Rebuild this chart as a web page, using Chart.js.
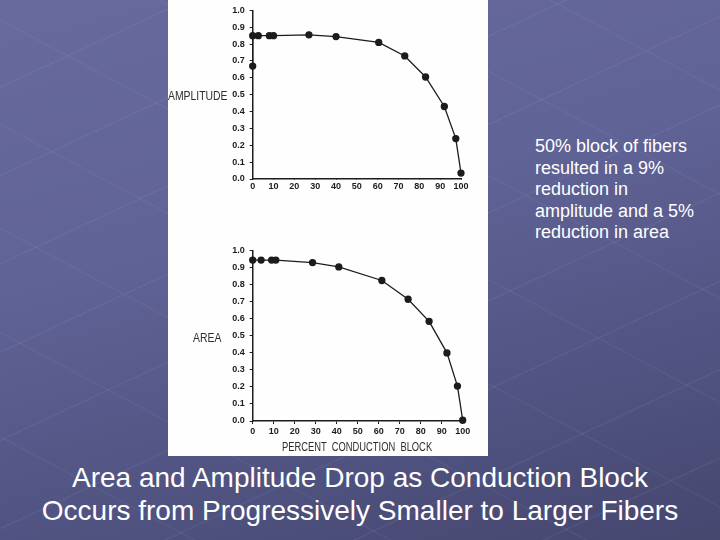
<!DOCTYPE html>
<html>
<head>
<meta charset="utf-8">
<script src="https://cdn.jsdelivr.net/npm/chart.js@4.4.1/dist/chart.umd.min.js"></script>
<style>
  html, body { margin:0; padding:0; }
  body {
    width:720px; height:540px; overflow:hidden; position:relative;
    background:
      repeating-linear-gradient(155deg, rgba(255,255,255,0) 0px, rgba(255,255,255,0) 78px, rgba(190,195,240,0.07) 79px, rgba(190,195,240,0.07) 80px),
      repeating-linear-gradient(28deg, rgba(255,255,255,0) 0px, rgba(255,255,255,0) 90px, rgba(190,195,240,0.06) 91px, rgba(190,195,240,0.06) 92px),
      linear-gradient(165deg, #686a9e 0%, #606396 40%, #505280 75%, #45476f 100%);
    font-family: "Liberation Sans", Arial, sans-serif;
  }
  #panel { position:absolute; left:168px; top:0; width:320px; height:456px; background:#fefefe; }
  .cv { position:absolute; left:0; width:320px; }
  #c1wrap { top:0; height:200px; }
  #c2wrap { top:230px; height:226px; }
  .lab { position:absolute; font-family:"Liberation Sans", Arial, sans-serif; color:#2e2e2e; white-space:pre; transform-origin:0 0; }
  #note { position:absolute; left:535px; top:136px; color:#fff; font-size:18px; line-height:21.6px; white-space:nowrap; }
  #title { position:absolute; left:0; width:720px; top:461px; text-align:center; color:#fff; font-size:28px; line-height:33px; white-space:nowrap; }
</style>
</head>
<body>
<div id="panel">
  <div class="cv" id="c1wrap"><canvas id="c1" width="320" height="200"></canvas></div>
  <div class="cv" id="c2wrap"><canvas id="c2" width="320" height="226"></canvas></div>
  <div class="lab" id="ampLab" style="left:0px; top:88px; font-size:13px; transform:scaleX(0.8);"></div>
  <div class="lab" id="areaLab" style="left:25px; top:330px; font-size:13px; transform:scaleX(0.8);"></div>
  <div class="lab" id="xLab" style="left:114px; top:440px; font-size:12px; transform:scaleX(0.78);"></div>
</div>
<div id="note">50% block of fibers<br>resulted in a 9%<br>reduction in<br>amplitude and a 5%<br>reduction in area</div>
<div id="title">Area and Amplitude Drop as Conduction Block<br>Occurs from Progressively Smaller to Larger Fibers</div>
<script>
// ---- data ----
const percentBlockAmp = [0, 0, 2.7, 8, 10, 27, 40, 60.5, 73, 83, 92, 97.5, 100];
const amplitude       = [0.67, 0.85, 0.85, 0.85, 0.85, 0.855, 0.845, 0.81, 0.73, 0.605, 0.43, 0.24, 0.035];
const percentBlockArea = [0, 4, 9, 11, 28.5, 41, 61.5, 74, 84, 92.5, 97.5, 100];
const area             = [0.945, 0.945, 0.945, 0.945, 0.93, 0.905, 0.825, 0.715, 0.585, 0.40, 0.205, 0.005];
const xTicks = [0, 10, 20, 30, 40, 50, 60, 70, 80, 90, 100];
const yTicks = [0.0, 0.1, 0.2, 0.3, 0.4, 0.5, 0.6, 0.7, 0.8, 0.9, 1.0];
const xTitle = "PERCENT  CONDUCTION  BLOCK";
const topYTitle = "AMPLITUDE";
const bottomYTitle = "AREA";

document.getElementById('ampLab').textContent = topYTitle;
document.getElementById('areaLab').textContent = bottomYTitle;
document.getElementById('xLab').textContent = xTitle;

const ink = '#1c1c1c';
const tickFont = { family: '"Liberation Sans", Arial, sans-serif', size: 9, weight: 'bold' };

function makeChart(id, xs, ys, opts) {
  const pts = xs.map((x, i) => ({ x: x, y: ys[i] }));
  return new Chart(document.getElementById(id), {
    type: 'scatter',
    data: { datasets: [{
      data: pts, showLine: true, borderColor: ink, borderWidth: 1.3,
      pointRadius: 3, pointBackgroundColor: ink, pointBorderColor: ink,
      tension: 0, clip: false
    }]},
    options: {
      responsive: false, animation: false,
      layout: { padding: opts.padding },
      plugins: { legend: { display: false }, tooltip: { enabled: false } },
      scales: {
        x: {
          type: 'linear', min: 0, max: 100,
          afterBuildTicks: s => { s.ticks = xTicks.map(v => ({ value: v })); },
          afterFit: s => { s.height = opts.xHeight; },
          grid: { drawOnChartArea: false, drawTicks: true, tickLength: opts.xTickLen, color: ink },
          border: { display: true, color: ink, width: 1.5 },
          ticks: { color: ink, font: tickFont, padding: opts.xPad, maxRotation: 0, autoSkip: false }
        },
        y: {
          type: 'linear', min: 0, max: 1,
          afterBuildTicks: s => { s.ticks = yTicks.map(v => ({ value: v })); },
          afterFit: s => { s.width = 84.7; },
          grid: { drawOnChartArea: false, drawTicks: true, tickLength: 3, color: ink },
          border: { display: true, color: ink, width: 1.5 },
          ticks: { color: ink, font: tickFont, padding: 5, autoSkip: false,
                   callback: v => Number(v).toFixed(1) }
        }
      }
    }
  });
}

makeChart('c1', percentBlockAmp, amplitude, {
  padding: { left: 0, right: 27, top: 10, bottom: 0 },
  xHeight: 21, xTickLen: 1, xPad: 1
});
makeChart('c2', percentBlockArea, area, {
  padding: { left: 0, right: 25.3, top: 20.7, bottom: 0 },
  xHeight: 35, xTickLen: 3, xPad: 2
});
</script>
</body>
</html>
